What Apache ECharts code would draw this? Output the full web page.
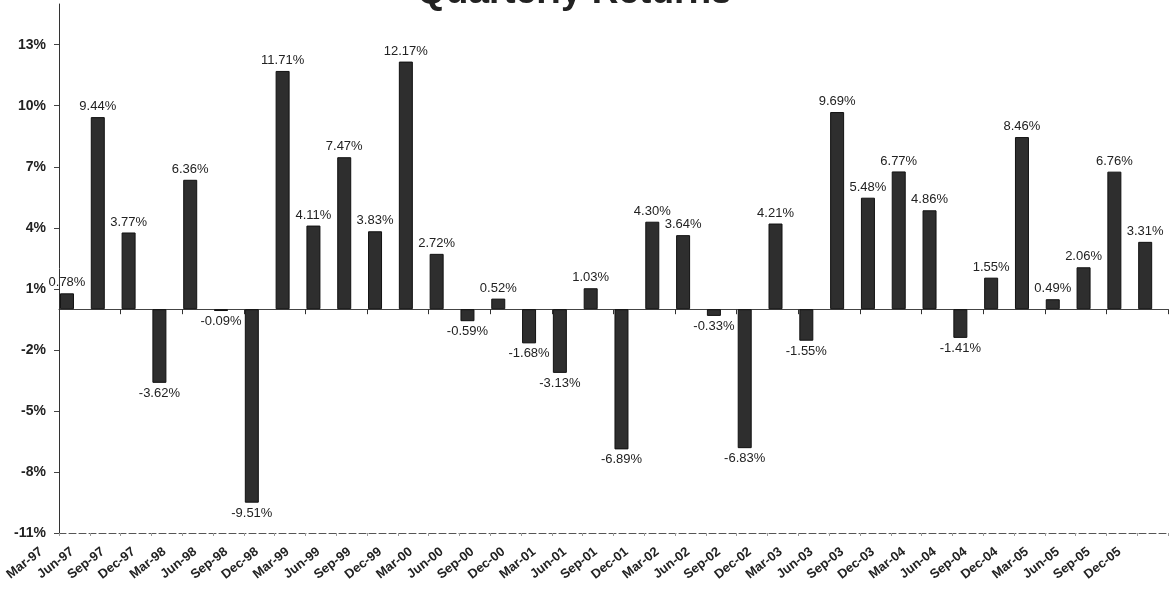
<!DOCTYPE html>
<html>
<head>
<meta charset="utf-8">
<script src="https://cdn.jsdelivr.net/npm/echarts@6/dist/echarts.min.js"></script>
<style>
html,body{margin:0;padding:0;background:#fff;}
#chart{width:1172px;height:592px;}
</style>
</head>
<body>
<div id="chart"></div>
<script>
const categories = ['Mar-97','Jun-97','Sep-97','Dec-97','Mar-98','Jun-98','Sep-98','Dec-98','Mar-99','Jun-99','Sep-99','Dec-99','Mar-00','Jun-00','Sep-00','Dec-00','Mar-01','Jun-01','Sep-01','Dec-01','Mar-02','Jun-02','Sep-02','Dec-02','Mar-03','Jun-03','Sep-03','Dec-03','Mar-04','Jun-04','Sep-04','Dec-04','Mar-05','Jun-05','Sep-05','Dec-05'];
const returns = [0.78, 9.44, 3.77, -3.62, 6.36, -0.09, -9.51, 11.71, 4.11, 7.47, 3.83, 12.17, 2.72, -0.59, 0.52, -1.68, -3.13, 1.03, -6.89, 4.30, 3.64, -0.33, -6.83, 4.21, -1.55, 9.69, 5.48, 6.77, 4.86, -1.41, 1.55, 8.46, 0.49, 2.06, 6.76, 3.31];
const yTicks = [-11, -8, -5, -2, 1, 4, 7, 10, 13];

const FONT = '"Liberation Sans", Arial, sans-serif';
const chart = echarts.init(document.getElementById('chart'), null, {renderer: 'canvas'});

const barData = returns.map(v => ({
  value: v,
  label: { position: v < 0 ? 'bottom' : 'top' }
}));

chart.setOption({
  animation: false,
  backgroundColor: '#ffffff',
  title: {
    text: 'Quarterly Returns',
    left: 412,
    top: -31,
    textStyle: { fontFamily: FONT, fontSize: 37, fontWeight: 'bold', color: '#222' }
  },
  grid: { left: 59, right: 4, top: 4, bottom: 59, containLabel: false },
  xAxis: [
    {
      type: 'category',
      data: categories,
      position: 'bottom',
      axisLine: { onZero: false, lineStyle: { color: '#555', width: 1, type: [7, 3] } },
      axisTick: { show: true, length: 3, lineStyle: { color: '#999' } },
      axisLabel: {
        interval: 0,
        rotate: 38,
        margin: 6,
        align: 'right',
        verticalAlign: 'bottom',
        padding: [0, 33, 5, 0],
        fontFamily: FONT,
        fontSize: 13,
        fontWeight: 'bold',
        color: '#222'
      },
      splitLine: { show: false }
    },
    {
      type: 'category',
      data: categories,
      position: 'bottom',
      axisLine: { onZero: true, lineStyle: { color: '#444', width: 1 } },
      axisTick: { show: true, length: 5, lineStyle: { color: '#333' } },
      axisLabel: { show: false },
      splitLine: { show: false }
    }
  ],
  yAxis: {
    type: 'value',
    min: -11,
    max: 15,
    axisLine: { show: true, lineStyle: { color: '#333', width: 1 } },
    axisTick: { show: true, length: 5, customValues: yTicks, lineStyle: { color: '#444' } },
    axisLabel: {
      customValues: yTicks,
      formatter: v => v + '%',
      margin: 13,
      fontFamily: FONT,
      fontSize: 14,
      fontWeight: 'bold',
      color: '#222'
    },
    splitLine: { show: false }
  },
  series: [
    {
      type: 'bar',
      xAxisIndex: 0,
      data: barData,
      barWidth: 14,
      barGap: '6%',
      itemStyle: { color: '#2e2e2e', borderColor: '#111', borderWidth: 1 },
      label: {
        show: true,
        distance: 4,
        formatter: p => p.value.toFixed(2) + '%',
        fontFamily: FONT,
        fontSize: 13,
        color: '#222'
      }
    },
    {
      type: 'bar',
      xAxisIndex: 0,
      data: categories.map(() => null),
      barWidth: 14,
      barGap: '6%'
    }
  ]
});
</script>
</body>
</html>
